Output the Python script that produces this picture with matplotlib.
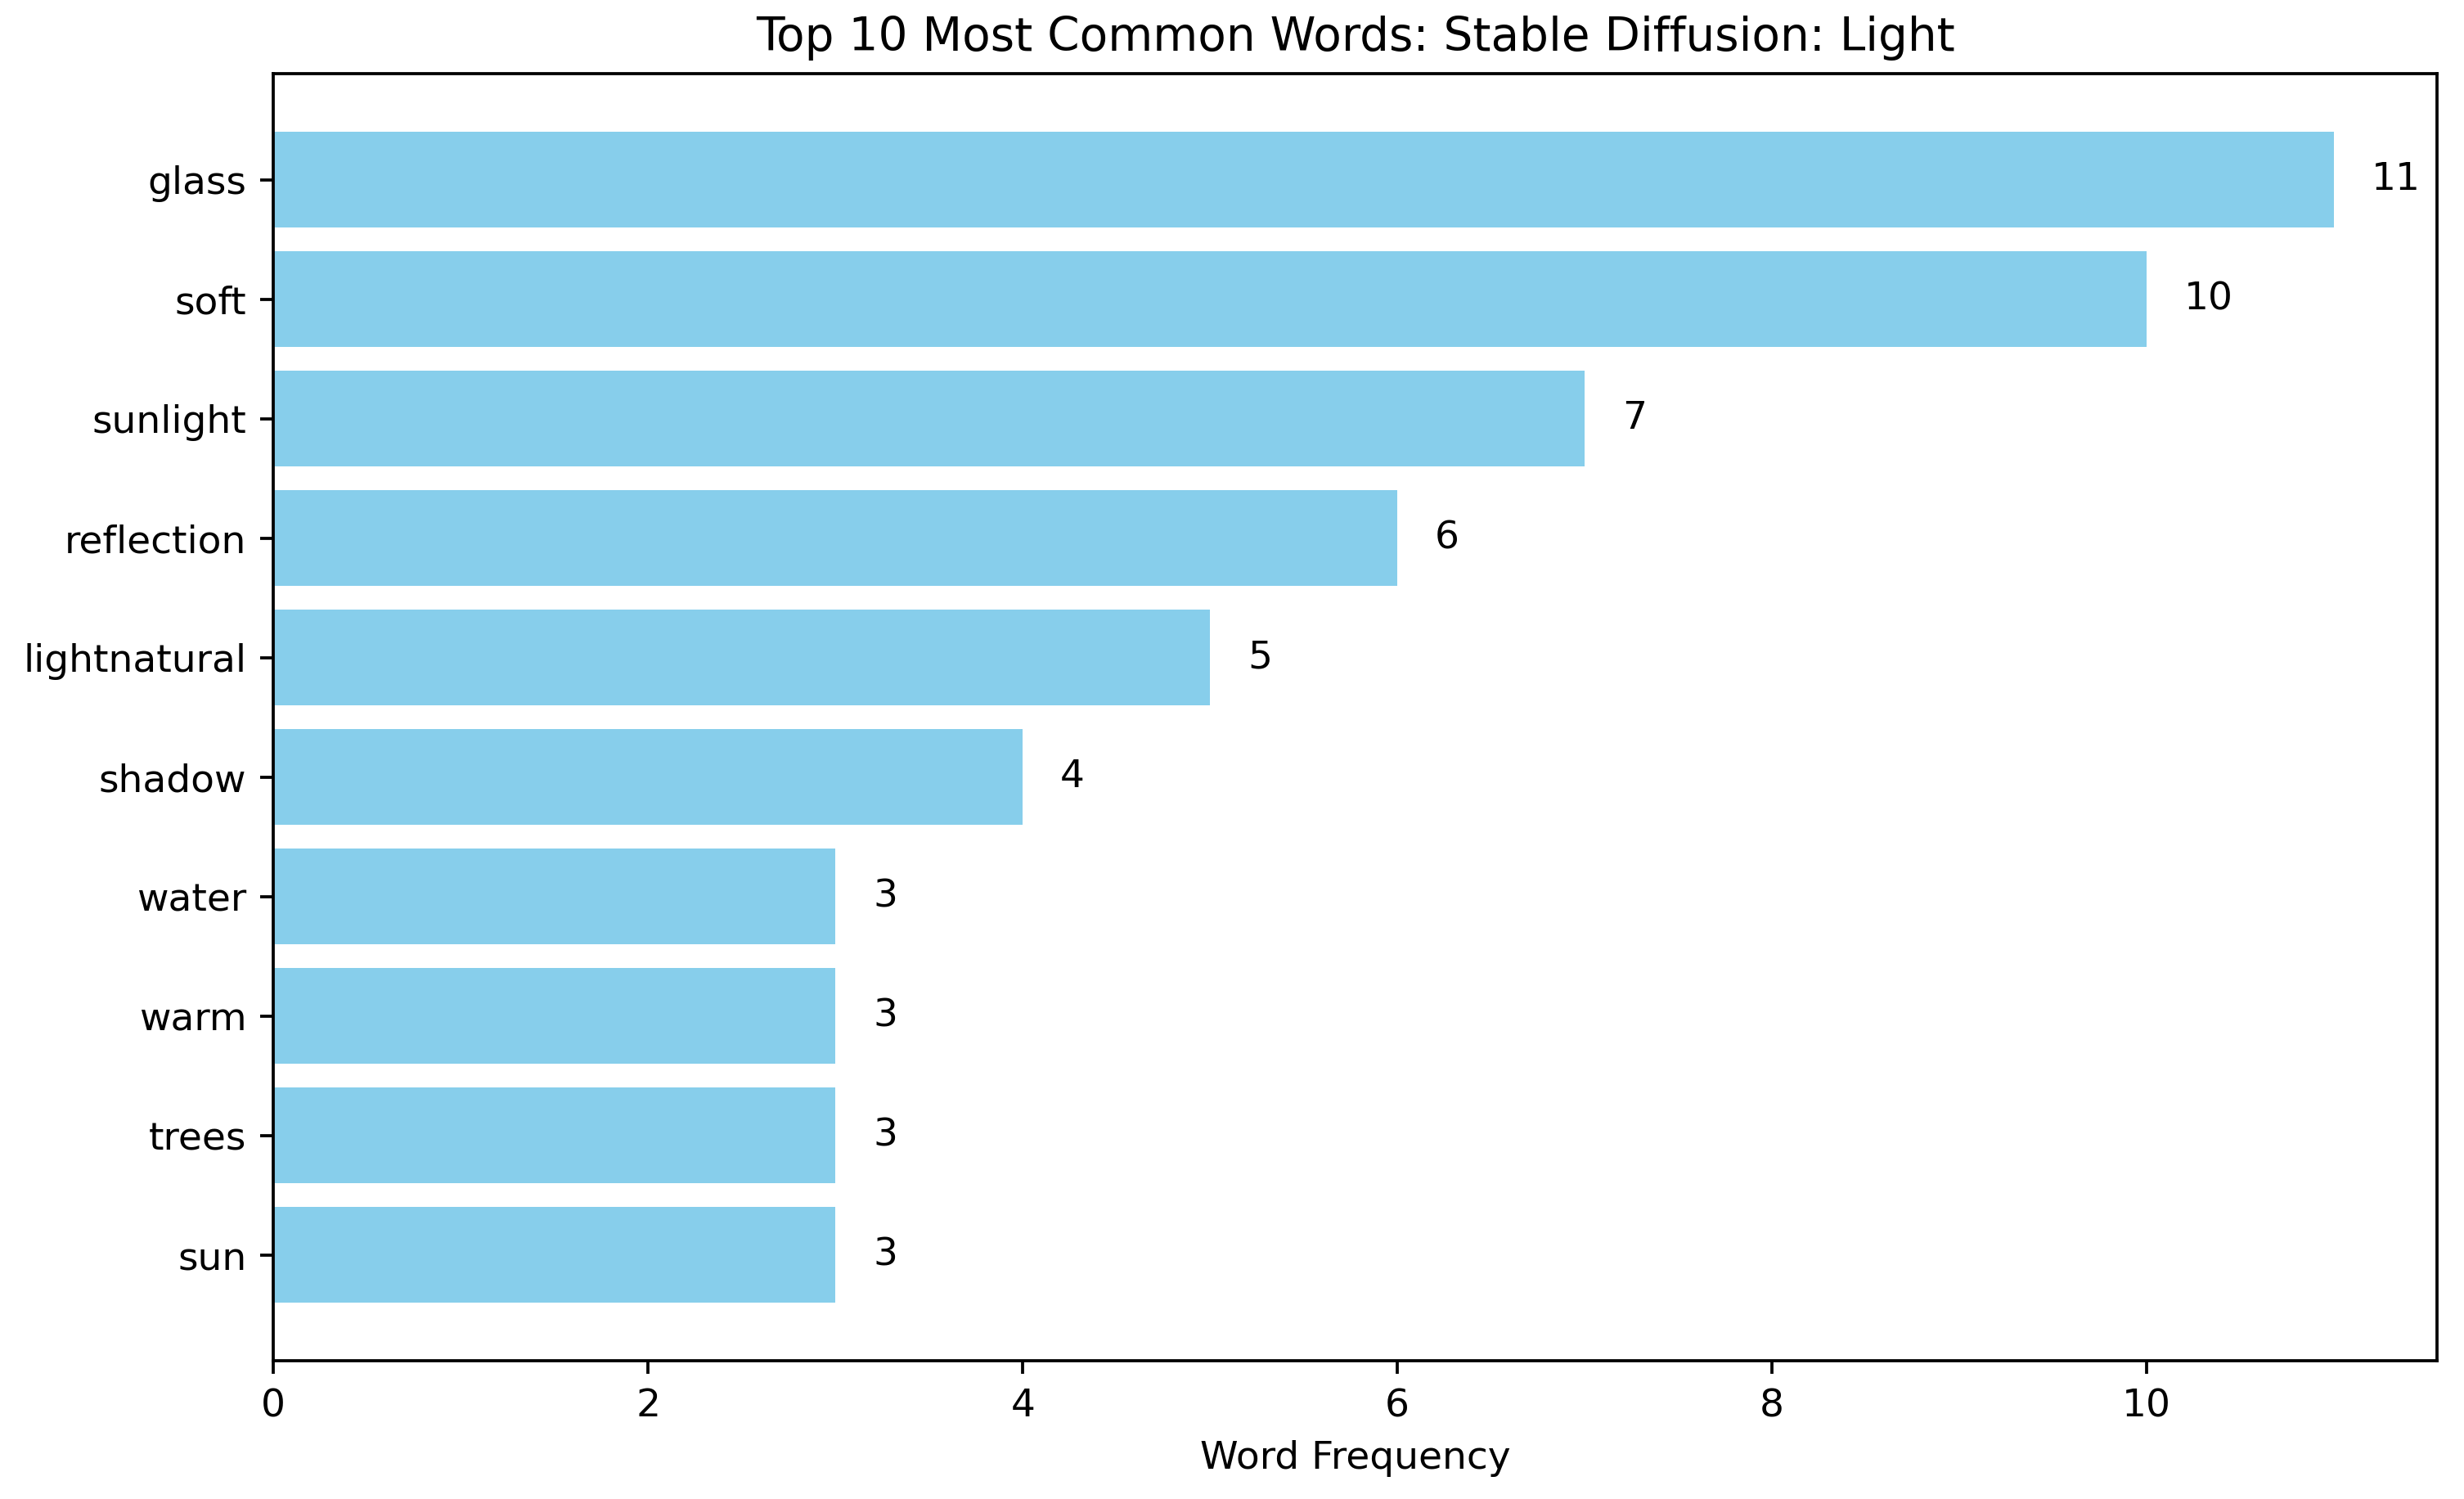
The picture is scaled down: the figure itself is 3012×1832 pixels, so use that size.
import matplotlib
matplotlib.use("Agg")
import matplotlib.pyplot as plt

words = ["glass", "soft", "sunlight", "reflection", "lightnatural",
         "shadow", "water", "warm", "trees", "sun"]
counts = [11, 10, 7, 6, 5, 4, 3, 3, 3, 3]

DPI = 339
fig, ax = plt.subplots(figsize=(3012 / DPI, 1832 / DPI), dpi=DPI)
fig.subplots_adjust(left=0.111, right=0.989, top=0.951, bottom=0.092)

ax.barh(words, counts, color="skyblue")
ax.invert_yaxis()

# value labels just past the bar ends
for i, v in enumerate(counts):
    ax.text(v + 0.2, i, str(v), va="center", fontsize=10)

ax.set_xlabel("Word Frequency")
ax.set_title("Top 10 Most Common Words: Stable Diffusion: Light")

fig.savefig("out.png", dpi=DPI)
